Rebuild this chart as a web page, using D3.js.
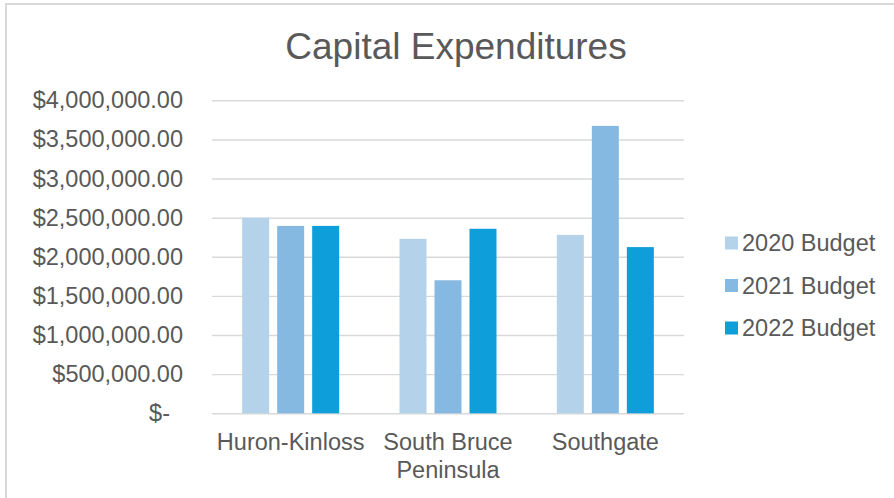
<!DOCTYPE html>
<html>
<head>
<meta charset="utf-8">
<script src="https://cdn.jsdelivr.net/npm/d3@7"></script>
<style>
  html, body { margin: 0; padding: 0; background: #fff; }
  svg { display: block; }
  text { font-family: "Liberation Sans", Arial, Helvetica, sans-serif; fill: #595959; }
</style>
</head>
<body>
<svg id="chart" width="894" height="498"></svg>
<script>
// Capital expenditure budgets by municipality
const categories = ["Huron-Kinloss", "South Bruce Peninsula", "Southgate"];
const categoryLines = [["Huron-Kinloss"], ["South Bruce", "Peninsula"], ["Southgate"]];
const seriesNames = ["2020 Budget", "2021 Budget", "2022 Budget"];
const budget2020 = [2500000, 2230000, 2280000];
const budget2021 = [2395000, 1700000, 3673000];
const budget2022 = [2395000, 2358000, 2124000];
const yTicks = [0, 500000, 1000000, 1500000, 2000000, 2500000, 3000000, 3500000, 4000000];
const colors = ["#b4d3ea", "#86b9e1", "#0e9ed9"];

const seriesValues = [budget2020, budget2021, budget2022];

const svg = d3.select("#chart");

// Chart area frame
svg.append("rect")
  .attr("x", 6).attr("y", 4)
  .attr("width", 900).attr("height", 510)
  .attr("fill", "#fff")
  .attr("stroke", "#d9d9d9").attr("stroke-width", 2);

const plot = { left: 212, right: 684, top: 100.3, bottom: 413.3 };

const y = d3.scaleLinear().domain([0, 4000000]).range([plot.bottom, plot.top]);
const x0 = d3.scaleBand().domain(categories).range([plot.left, plot.right]).padding(0);
const groupW = 97;
const x1 = d3.scaleBand().domain(seriesNames)
  .range([(x0.bandwidth() - groupW) / 2, (x0.bandwidth() + groupW) / 2])
  .paddingInner(0.229).paddingOuter(0);

// Title
svg.append("text")
  .attr("x", 456).attr("y", 59)
  .attr("text-anchor", "middle")
  .style("font-size", "37px")
  .text("Capital Expenditures");

// Gridlines
const fmt = d3.format(",.2f");
const yAxis = d3.axisLeft(y)
  .tickValues(yTicks)
  .tickSize(-(plot.right - plot.left))
  .tickPadding(29)
  .tickFormat(d => d === 0 ? "$-" : "$" + fmt(d));

const gy = svg.append("g")
  .attr("transform", `translate(${plot.left},0)`)
  .call(yAxis);
gy.select(".domain").remove();
gy.selectAll(".tick line").attr("stroke", "#d9d9d9").attr("stroke-width", 1.4);
gy.selectAll(".tick text")
  .style("font-size", "23.5px")
  .attr("fill", "#595959")
  .attr("dx", d => d === 0 ? -13 : 0);

// Bars
const groups = svg.append("g").selectAll("g")
  .data(categories)
  .join("g")
  .attr("transform", d => `translate(${x0(d)},0)`);

groups.selectAll("rect")
  .data((c, i) => seriesNames.map((s, k) => ({ series: s, value: seriesValues[k][i], k })))
  .join("rect")
  .attr("x", d => x1(d.series))
  .attr("width", x1.bandwidth())
  .attr("y", d => y(d.value))
  .attr("height", d => y(0) - y(d.value))
  .attr("fill", d => colors[d.k]);

// Category axis labels
const gx = svg.append("g");
categories.forEach((c, i) => {
  const t = gx.append("text")
    .attr("x", x0(c) + x0.bandwidth() / 2)
    .attr("y", 450)
    .attr("text-anchor", "middle")
    .style("font-size", "23.5px");
  categoryLines[i].forEach((line, j) => {
    t.append("tspan")
      .attr("x", x0(c) + x0.bandwidth() / 2)
      .attr("dy", j === 0 ? 0 : 28)
      .text(line);
  });
});

// Legend
const legend = svg.append("g");
seriesNames.forEach((s, k) => {
  const cy = 243 + k * 42.5;
  legend.append("rect")
    .attr("x", 725).attr("y", cy - 6.5)
    .attr("width", 13).attr("height", 13)
    .attr("fill", colors[k]);
  legend.append("text")
    .attr("x", 742).attr("y", cy)
    .attr("dy", "0.35em")
    .style("font-size", "23.5px")
    .text(s);
});
</script>
</body>
</html>
